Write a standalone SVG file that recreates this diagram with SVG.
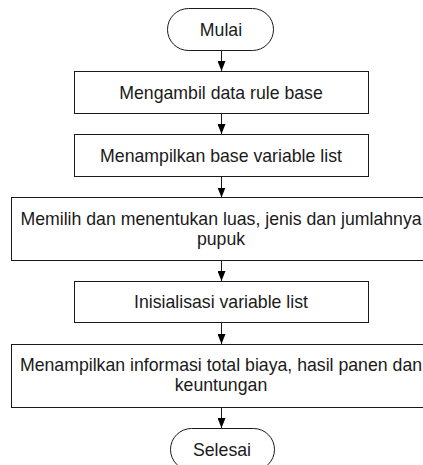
<svg xmlns="http://www.w3.org/2000/svg" width="423" height="465" viewBox="0 0 423 465">
<defs>
<style>
.box{fill:#fff;stroke:#1a1a1a;stroke-width:1}
.t{font-family:"Liberation Sans",Arial,sans-serif;font-size:17.7px;fill:#1a1a1a;text-anchor:middle}
.c{stroke:#1a1a1a;stroke-width:1;fill:none;marker-end:url(#ah)}
</style>
<marker id="ah" markerWidth="10" markerHeight="8" refX="10" refY="4" orient="auto" markerUnits="userSpaceOnUse" viewBox="0 0 10 8">
<path d="M0,0 L10,4 L0,8 Z" fill="#000"/>
</marker>
</defs>
<rect width="423" height="465" fill="#fff"/>
<g id="connectors">
<line class="c" x1="221.5" y1="50.5" x2="221.5" y2="71"/>
<line class="c" x1="221.5" y1="113.5" x2="221.5" y2="134"/>
<line class="c" x1="221.5" y1="176.5" x2="221.5" y2="197.5"/>
<line class="c" x1="221.5" y1="260.5" x2="221.5" y2="281"/>
<line class="c" x1="221.5" y1="323" x2="221.5" y2="344"/>
<line class="c" x1="221.5" y1="407" x2="221.5" y2="428"/>
</g>
<g id="mulai">
<rect class="box" x="167.5" y="8.5" width="106" height="42" rx="21" ry="21"/>
<text class="t" x="221" y="35.5">Mulai</text>
</g>
<g id="n1">
<rect class="box" x="74.5" y="71.5" width="294" height="42"/>
<text class="t" x="221" y="98.5">Mengambil data rule base</text>
</g>
<g id="n2">
<rect class="box" x="74.5" y="134.5" width="294" height="42"/>
<text class="t" x="221" y="161.5">Menampilkan base variable list</text>
</g>
<g id="n3">
<rect class="box" x="11.5" y="197.5" width="420" height="63"/>
<text class="t" x="221" y="225">Memilih dan menentukan luas, jenis dan jumlahnya</text>
<text class="t" x="221" y="245">pupuk</text>
</g>
<g id="n4">
<rect class="box" x="74.5" y="281.5" width="294" height="41"/>
<text class="t" x="221" y="308">Inisialisasi variable list</text>
</g>
<g id="n5">
<rect class="box" x="11.5" y="344.5" width="420" height="63"/>
<text class="t" x="221" y="370.5">Menampilkan informasi total biaya, hasil panen dan</text>
<text class="t" x="221" y="391">keuntungan</text>
</g>
<g id="selesai">
<rect class="box" x="170.5" y="428.5" width="104" height="42" rx="21" ry="21"/>
<text class="t" x="222" y="455.5">Selesai</text>
</g>
</svg>
